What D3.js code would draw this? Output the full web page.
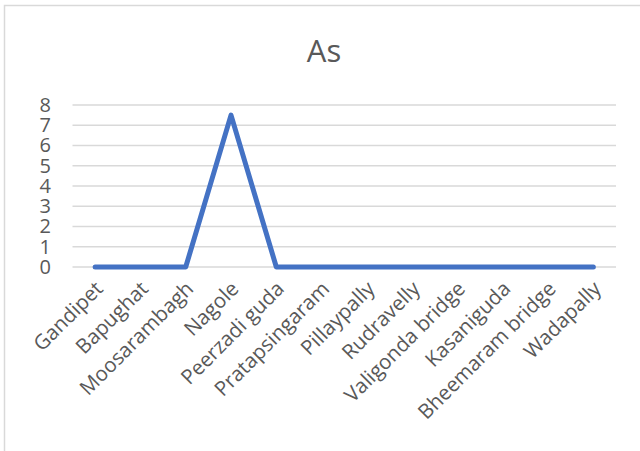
<!DOCTYPE html>
<html>
<head>
<meta charset="utf-8">
<script src="https://cdn.jsdelivr.net/npm/d3@7"></script>
<style>
  html, body { margin: 0; padding: 0; background: #fff; }
  svg { display: block; }
  text { font-family: "Open Sans", "Noto Sans", sans-serif; fill: #595959; }
</style>
</head>
<body>
<svg id="chart" width="640" height="451"></svg>
<script>
// Arsenic (As) readings by sampling station
const stations = ["Gandipet", "Bapughat", "Moosarambagh", "Nagole", "Peerzadi guda",
  "Pratapsingaram", "Pillaypally", "Rudravelly", "Valigonda bridge", "Kasaniguda",
  "Bheemaram bridge", "Wadapally"];
const asValues = [0, 0, 0, 7.5, 0, 0, 0, 0, 0, 0, 0, 0];
const yTicks = [0, 1, 2, 3, 4, 5, 6, 7, 8];
const chartTitle = "As";

const W = 640, H = 451;
const plot = { left: 72.5, right: 616, top: 105, bottom: 267 };

const svg = d3.select("#chart");

// outer chart frame
svg.append("rect")
  .attr("x", 4.5).attr("y", 5.5)
  .attr("width", W + 10).attr("height", H + 10)
  .attr("fill", "none").attr("stroke", "#d9d9d9").attr("stroke-width", 1.5);

const x = d3.scaleBand().domain(stations).range([plot.left, plot.right]);
const y = d3.scaleLinear().domain([0, 8]).range([plot.bottom, plot.top]);

// horizontal gridlines
svg.append("g")
  .selectAll("line")
  .data(yTicks)
  .join("line")
  .attr("x1", plot.left).attr("x2", plot.right)
  .attr("y1", d => y(d)).attr("y2", d => y(d))
  .attr("stroke", "#d9d9d9").attr("stroke-width", 1.5);

// y axis labels
const yAxis = d3.axisLeft(y).tickValues(yTicks).tickSize(0).tickPadding(0);
const gy = svg.append("g").attr("transform", "translate(51,0)").call(yAxis);
gy.select(".domain").remove();
gy.selectAll("text")
  .attr("font-size", 20).attr("fill", "#595959")
  .style("font-family", "'Open Sans', sans-serif");

// x axis labels, rotated
const xAxis = d3.axisBottom(x).tickSize(0).tickPadding(0);
const gx = svg.append("g").attr("transform", `translate(0,${plot.bottom})`).call(xAxis);
gx.select(".domain").remove();
gx.selectAll("text")
  .attr("font-size", 20.5).attr("fill", "#595959")
  .style("font-family", "'Open Sans', sans-serif")
  .attr("text-anchor", "end")
  .attr("dy", null)
  .attr("transform", "translate(9,23) rotate(-45)");

// series line
const line = d3.line()
  .x((d, i) => x(stations[i]) + x.bandwidth() / 2)
  .y(d => y(d));

svg.append("path")
  .datum(asValues)
  .attr("d", line)
  .attr("fill", "none")
  .attr("stroke", "#4472c4")
  .attr("stroke-width", 5)
  .attr("stroke-linecap", "round")
  .attr("stroke-linejoin", "round");

// title
svg.append("text")
  .attr("x", 324).attr("y", 62)
  .attr("text-anchor", "middle")
  .attr("font-size", 31)
  .attr("fill", "#595959")
  .text(chartTitle);
</script>
</body>
</html>
